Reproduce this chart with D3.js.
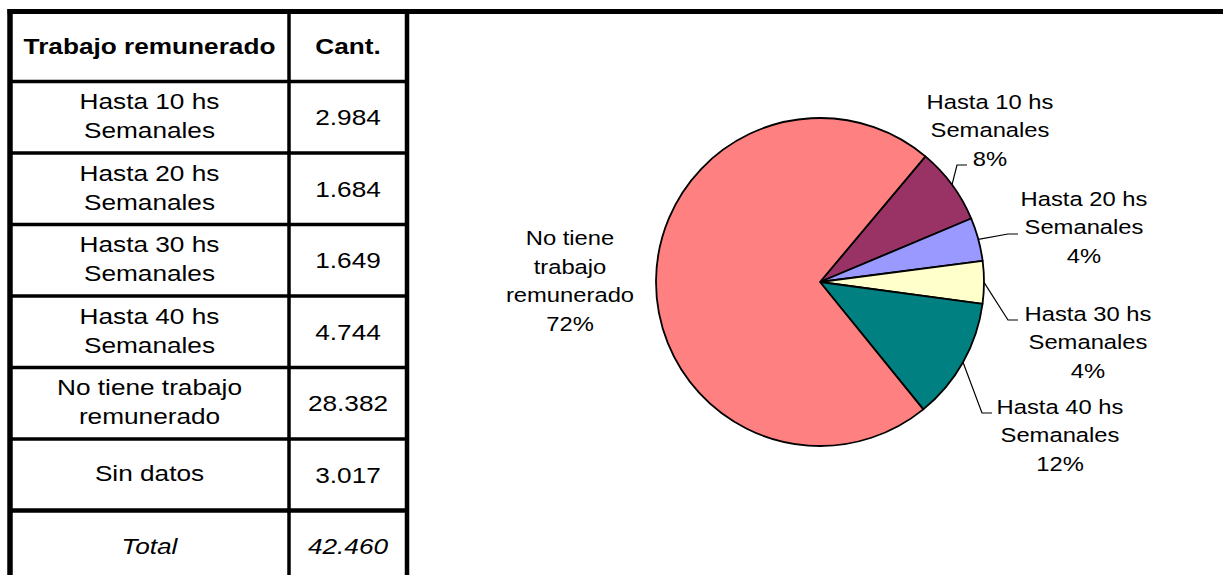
<!DOCTYPE html>
<html>
<head>
<meta charset="utf-8">
<script src="https://cdn.jsdelivr.net/npm/d3@7"></script>
<style>
  body { margin: 0; background: #fff; }
  text { font-family: "Liberation Sans", Arial, sans-serif; fill: #000; }
</style>
</head>
<body>
<div class="chart"></div>
<script>
// data
var categories = ["Hasta 10 hs Semanales", "Hasta 20 hs Semanales", "Hasta 30 hs Semanales",
                  "Hasta 40 hs Semanales", "No tiene trabajo remunerado", "Sin datos"];
var values = [2984, 1684, 1649, 4744, 28382, 3017];
var tableLines = [["Hasta 10 hs", "Semanales"], ["Hasta 20 hs", "Semanales"], ["Hasta 30 hs", "Semanales"],
                  ["Hasta 40 hs", "Semanales"], ["No tiene trabajo", "remunerado"], ["Sin datos"]];
var pieCategories = categories.slice(0, 5);
var pieValues = values.slice(0, 5);
var pieLines = [["Hasta 10 hs", "Semanales"], ["Hasta 20 hs", "Semanales"], ["Hasta 30 hs", "Semanales"],
                ["Hasta 40 hs", "Semanales"], ["No tiene", "trabajo", "remunerado"]];
var pieColors = ["#993366", "#9999ff", "#ffffcc", "#008080", "#ff8080"];

var svgWidth = 1223, svgHeight = 575;

var svg = d3.select(".chart").append("svg")
  .attr("width", svgWidth)
  .attr("height", svgHeight);

var es = d3.formatLocale({ decimal: ",", thousands: ".", grouping: [3] });
var fmt = es.format(",d");

// ---------------- table ----------------
var tbl = { left: 10, mid: 289, right: 407, top: 11.5, headBottom: 81.5, rowH: 71.5 };
var rowY = d3.scaleLinear().domain([0, 1]).range([tbl.headBottom, tbl.headBottom + tbl.rowH]);
var nRows = values.length + 1; // + total

// text is a bit wide in the original, so stretch it horizontally
function txt(g, x, y, s, size, sx, opts) {
  opts = opts || {};
  return g.append("text")
    .attr("transform", "translate(" + x + "," + y + ") scale(" + sx + ",1)")
    .attr("text-anchor", "middle")
    .attr("dy", "0.35em")
    .style("font-size", size + "px")
    .style("font-weight", opts.bold ? "bold" : null)
    .style("font-style", opts.italic ? "italic" : null)
    .text(s);
}

var tg = svg.append("g");
var c1 = (tbl.left + tbl.mid) / 2, c2 = (tbl.mid + tbl.right) / 2;
var lh = 29, fs = 22.5, fsx = 1.165;

// header
txt(tg, c1, (tbl.top + tbl.headBottom) / 2, "Trabajo remunerado", fs, fsx, { bold: true });
txt(tg, c2, (tbl.top + tbl.headBottom) / 2, "Cant.", fs, fsx, { bold: true });

values.forEach(function (v, i) {
  var cy = (rowY(i) + rowY(i + 1)) / 2;
  var lines = tableLines[i];
  lines.forEach(function (l, j) {
    txt(tg, c1, cy - 1.5 + (j - (lines.length - 1) / 2) * lh, l, fs, fsx);
  });
  txt(tg, c2, cy, fmt(v), fs, fsx);
});
var total = d3.sum(values);
var ty = (rowY(values.length) + rowY(values.length + 1)) / 2;
txt(tg, c1, ty, "Total", fs, fsx, { italic: true });
txt(tg, c2, ty, fmt(total), fs, fsx, { italic: true });

// grid lines
for (var i = 0; i < nRows; i++) {
  var y = rowY(i);
  var w = (i === 6) ? 4.5 : 3.5;
  tg.append("line").attr("x1", tbl.left).attr("x2", tbl.right).attr("y1", y).attr("y2", y)
    .attr("stroke", "#000").attr("stroke-width", w);
}
tg.append("line").attr("x1", tbl.mid).attr("x2", tbl.mid).attr("y1", tbl.top).attr("y2", svgHeight + 10)
  .attr("stroke", "#000").attr("stroke-width", 3.5);
tg.append("line").attr("x1", tbl.right).attr("x2", tbl.right).attr("y1", tbl.top).attr("y2", svgHeight + 10)
  .attr("stroke", "#000").attr("stroke-width", 4.5);
tg.append("line").attr("x1", tbl.left).attr("x2", tbl.left).attr("y1", tbl.top - 2.5).attr("y2", svgHeight + 10)
  .attr("stroke", "#000").attr("stroke-width", 5.5);
// top border continues over the chart box
tg.append("line").attr("x1", tbl.left - 2.5).attr("x2", svgWidth + 5).attr("y1", tbl.top).attr("y2", tbl.top)
  .attr("stroke", "#000").attr("stroke-width", 5);

// ---------------- pie ----------------
var cx = 820, cy = 282, radius = 164;
var pieG = svg.append("g").attr("transform", "translate(" + cx + "," + cy + ")");

var pie = d3.pie().sort(null)
  .startAngle(40 * Math.PI / 180)
  .endAngle(40 * Math.PI / 180 + 2 * Math.PI);
var arcs = pie(pieValues);
var arc = d3.arc().innerRadius(0).outerRadius(radius);
var edgeArc = d3.arc().innerRadius(radius).outerRadius(radius);
var pieTotal = d3.sum(pieValues);

pieG.selectAll("path")
  .data(arcs)
  .enter()
  .append("path")
  .attr("d", arc)
  .attr("fill", function (d, i) { return pieColors[i]; })
  .attr("stroke", "#000")
  .attr("stroke-width", 1.8)
  .attr("stroke-linejoin", "round");

// label placement (offsets from pie centre, centre of the label block) and leader elbow
var labelPos = [[170, -152], [264, -55], [268, 60], [240, 153], [-250, -1]];
var leaderEnd = [[147, -117], [198, -48], [198, 38], [172, 131], null];

arcs.forEach(function (d, i) {
  var lines = pieLines[i].concat([Math.round(d.value / pieTotal * 100) + "%"]);
  var p = labelPos[i];
  lines.forEach(function (l, j) {
    txt(pieG, p[0], p[1] + (j - (lines.length - 1) / 2) * 28.5, l, 20.5, 1.16);
  });
  if (leaderEnd[i]) {
    var s = edgeArc.centroid(d);
    var e = leaderEnd[i];
    var elbowX = e[0] - 10;
    pieG.append("polyline")
      .attr("points", [s, [elbowX, e[1]], e].map(function (q) { return q.join(","); }).join(" "))
      .attr("fill", "none")
      .attr("stroke", "#000")
      .attr("stroke-width", 1.2);
  }
});
</script>
</body>
</html>
